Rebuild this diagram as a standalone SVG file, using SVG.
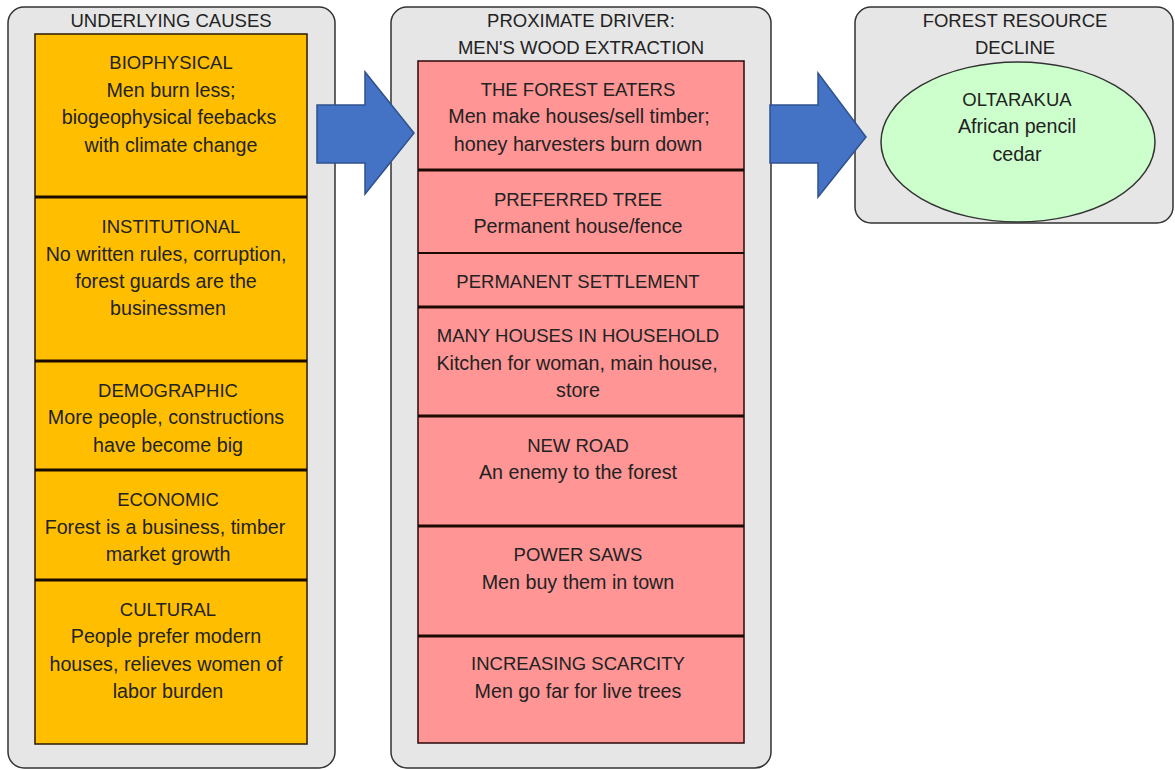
<svg xmlns="http://www.w3.org/2000/svg" width="1175" height="770" viewBox="0 0 1175 770">
  <style>
    .panel { fill: #e6e6e6; stroke: #333; stroke-width: 1.5; }
    .cause { fill: #ffbf00; stroke: #2a1a00; stroke-width: 1.5; }
    .driver { fill: #ff9595; stroke: #2a0a0a; stroke-width: 1.5; }
    .sep { stroke: #1a0a00; stroke-width: 3; }
    .sep-thin { stroke: #1a0a00; stroke-width: 2; }
    .decline { fill: #ccffcc; stroke: #333; stroke-width: 1.5; }
    .flow { fill: #4472c4; stroke: #2f528f; stroke-width: 1.5; stroke-linejoin: miter; }
    text { font-family: "Liberation Sans", Arial, sans-serif; font-size: 18.5px; fill: #222; text-anchor: middle; }
    text.d { font-size: 19.7px; }
  </style>

  <!-- Underlying causes -->
  <g id="underlying-causes">
    <rect class="panel" x="8" y="7" width="327" height="761" rx="16" ry="16"/>
    <text x="171" y="27">UNDERLYING CAUSES</text>
    <rect class="cause" x="35" y="34" width="272" height="710"/>
    <line class="sep" x1="35" y1="197" x2="307" y2="197"/>
    <line class="sep" x1="35" y1="361" x2="307" y2="361"/>
    <line class="sep" x1="35" y1="470" x2="307" y2="470"/>
    <line class="sep" x1="35" y1="580" x2="307" y2="580"/>
  </g>
  <g id="cause-biophysical">
    <text x="171" y="69">BIOPHYSICAL</text>
    <text class="d" x="171" y="97">Men burn less;</text>
    <text class="d" x="169" y="124">biogeophysical feebacks</text>
    <text class="d" x="171" y="152">with climate change</text>
  </g>
  <g id="cause-institutional">
    <text x="171" y="233">INSTITUTIONAL</text>
    <text class="d" x="166" y="261">No written rules, corruption,</text>
    <text class="d" x="166" y="288">forest guards are the</text>
    <text class="d" x="168" y="315">businessmen</text>
  </g>
  <g id="cause-demographic">
    <text x="168" y="397">DEMOGRAPHIC</text>
    <text class="d" x="166" y="424">More people, constructions</text>
    <text class="d" x="168" y="452">have become big</text>
  </g>
  <g id="cause-economic">
    <text x="168" y="506">ECONOMIC</text>
    <text class="d" x="165" y="534">Forest is a business, timber</text>
    <text class="d" x="168" y="561">market growth</text>
  </g>
  <g id="cause-cultural">
    <text x="168" y="616">CULTURAL</text>
    <text class="d" x="166" y="643">People prefer modern</text>
    <text class="d" x="166" y="671">houses, relieves women of</text>
    <text class="d" x="168" y="698">labor burden</text>
  </g>

  <!-- Proximate driver -->
  <g id="proximate-driver">
    <rect class="panel" x="391" y="7" width="380" height="761" rx="16" ry="16"/>
    <text x="581" y="27">PROXIMATE DRIVER:</text>
    <text x="581" y="54">MEN'S WOOD EXTRACTION</text>
    <rect class="driver" x="418" y="61" width="326" height="682"/>
    <line class="sep" x1="418" y1="170" x2="744" y2="170"/>
    <line class="sep-thin" x1="418" y1="253" x2="744" y2="253"/>
    <line class="sep" x1="418" y1="307" x2="744" y2="307"/>
    <line class="sep" x1="418" y1="416" x2="744" y2="416"/>
    <line class="sep" x1="418" y1="526" x2="744" y2="526"/>
    <line class="sep" x1="418" y1="636" x2="744" y2="636"/>
  </g>
  <g id="driver-forest-eaters">
    <text x="578" y="96">THE FOREST EATERS</text>
    <text class="d" x="579" y="123">Men make houses/sell timber;</text>
    <text class="d" x="578" y="151">honey harvesters burn down</text>
  </g>
  <g id="driver-preferred-tree">
    <text x="578" y="206">PREFERRED TREE</text>
    <text class="d" x="578" y="233">Permanent house/fence</text>
  </g>
  <g id="driver-settlement">
    <text x="578" y="288">PERMANENT SETTLEMENT</text>
  </g>
  <g id="driver-many-houses">
    <text x="578" y="342">MANY HOUSES IN HOUSEHOLD</text>
    <text class="d" x="577" y="370">Kitchen for woman, main house,</text>
    <text class="d" x="578" y="397">store</text>
  </g>
  <g id="driver-new-road">
    <text x="578" y="452">NEW ROAD</text>
    <text class="d" x="578" y="479">An enemy to the forest</text>
  </g>
  <g id="driver-power-saws">
    <text x="578" y="561">POWER SAWS</text>
    <text class="d" x="578" y="589">Men buy them in town</text>
  </g>
  <g id="driver-scarcity">
    <text x="578" y="670">INCREASING SCARCITY</text>
    <text class="d" x="578" y="698">Men go far for live trees</text>
  </g>

  <!-- Forest resource decline -->
  <g id="resource-decline">
    <rect class="panel" x="855" y="7" width="318" height="216" rx="16" ry="16"/>
    <text x="1015" y="27">FOREST RESOURCE</text>
    <text x="1015" y="54">DECLINE</text>
  </g>
  <g id="oltarakua">
    <ellipse class="decline" cx="1018" cy="142" rx="137" ry="80"/>
    <text x="1017" y="106">OLTARAKUA</text>
    <text class="d" x="1017" y="133">African pencil</text>
    <text class="d" x="1017" y="161">cedar</text>
  </g>

  <!-- Connectors -->
  <g id="connectors">
    <polygon class="flow" points="317,105 365,105 365,72 414,133 365,194 365,163 317,163"/>
    <polygon class="flow" points="770,105 818,105 818,73 866,137 818,197 818,163 770,163"/>
  </g>
</svg>
